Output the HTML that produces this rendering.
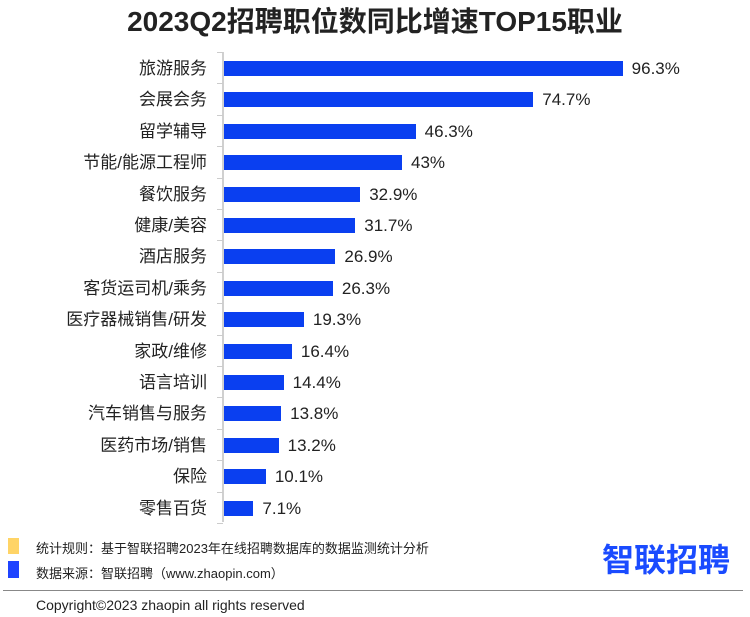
<!DOCTYPE html>
<html><head><meta charset="utf-8"><style>
body{margin:0;width:750px;height:617px;background:#fff;position:relative;overflow:hidden;font-family:"Liberation Sans","Noto Sans CJK SC",sans-serif;color:#222}
.t{position:absolute;left:0;width:750px;top:0px;text-align:center;font-size:28px;font-weight:bold;color:#222}
.l{position:absolute;right:543px;font-size:17px;white-space:nowrap;line-height:20px}
.b{position:absolute;left:224px;height:15px;background:#0a3ff0}
.v{position:absolute;font-size:17px;line-height:20px}
.tk{position:absolute;left:217px;width:6px;height:1px;background:#ccc}
.s{position:absolute;font-size:13px;left:36px}
</style></head><body>
<div class="t">2023Q2招聘职位数同比增速TOP15职业</div>
<div style="position:absolute;left:222px;top:52px;width:2px;height:470px;background:#d0d0d0"></div>
<div id="c"></div>
<script>
var d=[["旅游服务",96.3],["会展会务",74.7],["留学辅导",46.3],["节能/能源工程师",43],["餐饮服务",32.9],["健康/美容",31.7],["酒店服务",26.9],["客货运司机/乘务",26.3],["医疗器械销售/研发",19.3],["家政/维修",16.4],["语言培训",14.4],["汽车销售与服务",13.8],["医药市场/销售",13.2],["保险",10.1],["零售百货",7.1]];
var h="";
for(var i=0;i<d.length;i++){var y=61+i*31.4;var w=d[i][1]*4.14;
h+='<div class="l" style="top:'+(y-2)+'px">'+d[i][0]+'</div>';
h+='<div class="b" style="top:'+y+'px;width:'+w+'px"></div>';
h+='<div class="v" style="top:'+(y-2)+'px;left:'+(224+w+9)+'px">'+d[i][1]+'%</div>';}
for(var k=0;k<=15;k++){h+='<div class="tk" style="top:'+(52+k*31.4)+'px"></div>';}
document.getElementById("c").innerHTML=h;
</script>
<div style="position:absolute;left:8px;top:538px;width:11px;height:16px;background:#ffd466"></div>
<div style="position:absolute;left:8px;top:561px;width:11px;height:17px;background:#1f44ff"></div>
<div class="s" style="top:538px">统计规则：基于智联招聘2023年在线招聘数据库的数据监测统计分析</div>
<div class="s" style="top:563px">数据来源：智联招聘（www.zhaopin.com）</div>
<div style="position:absolute;left:602px;top:535px;font-size:32px;font-weight:bold;color:#1a4bff;font-family:'Noto Sans CJK SC',sans-serif">智联招聘</div>
<div style="position:absolute;left:3px;top:590px;width:740px;height:1px;background:#888"></div>
<div style="position:absolute;left:36px;top:597px;font-size:14px">Copyright©2023 zhaopin all rights reserved</div>
</body></html>
